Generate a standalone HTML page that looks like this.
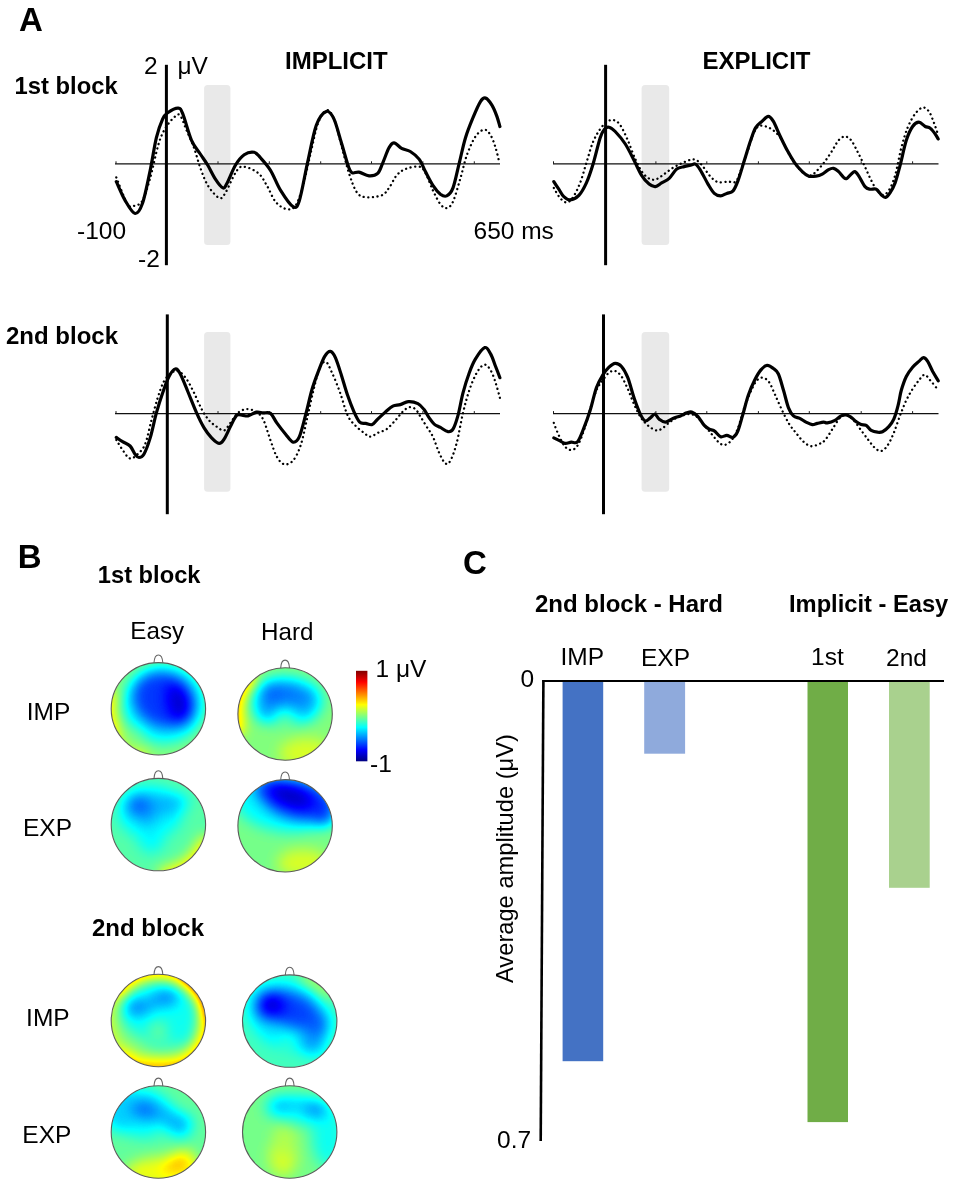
<!DOCTYPE html>
<html><head><meta charset="utf-8"><title>Figure</title>
<style>
html,body{margin:0;padding:0;background:#fff}
svg{display:block}
text{font-family:"Liberation Sans",sans-serif;fill:#000}
.b{font-weight:bold}
.sol{fill:none;stroke:#000;stroke-width:3.2;stroke-linejoin:round;stroke-linecap:round}
.dot{fill:none;stroke:#000;stroke-width:2.3;stroke-dasharray:0.1 4.5;stroke-linecap:round}
</style></head><body>
<svg width="957" height="1185" viewBox="0 0 957 1185">
<defs>
<filter id="jet" x="-20%" y="-20%" width="140%" height="140%" color-interpolation-filters="sRGB">
<feGaussianBlur stdDeviation="7"/>
<feComponentTransfer>
<feFuncR type="table" tableValues="0 0 0 0 0.5 1 1 1 0.5"/>
<feFuncG type="table" tableValues="0 0 0.5 1 1 1 0.5 0 0"/>
<feFuncB type="table" tableValues="0.5 1 1 1 0.5 0 0 0 0"/>
<feFuncA type="linear" slope="0" intercept="1"/>
</feComponentTransfer>
</filter>
<linearGradient id="cb" x1="0" y1="0" x2="0" y2="1">
<stop offset="0" stop-color="#800000"/><stop offset="0.125" stop-color="#ff0000"/><stop offset="0.25" stop-color="#ff8000"/><stop offset="0.375" stop-color="#ffff00"/><stop offset="0.5" stop-color="#80ff80"/><stop offset="0.625" stop-color="#00ffff"/><stop offset="0.75" stop-color="#0080ff"/><stop offset="0.875" stop-color="#0000ff"/><stop offset="1" stop-color="#000080"/>
</linearGradient>
</defs>
<rect width="957" height="1185" fill="#fff"/>
<!-- PANEL A -->
<rect x="204.1" y="85.1" width="26.3" height="160.0" rx="3.5" fill="#e9e9e9"/>
<line x1="115.0" y1="163.8" x2="500.0" y2="163.8" stroke="#111" stroke-width="1.2"/>
<line x1="116.0" y1="161.3" x2="116.0" y2="163.8" stroke="#1a1a1a" stroke-width="1"/>
<line x1="218.0" y1="161.3" x2="218.0" y2="163.8" stroke="#1a1a1a" stroke-width="1"/>
<line x1="269.3" y1="161.3" x2="269.3" y2="163.8" stroke="#1a1a1a" stroke-width="1"/>
<line x1="320.7" y1="161.3" x2="320.7" y2="163.8" stroke="#1a1a1a" stroke-width="1"/>
<line x1="371.5" y1="161.3" x2="371.5" y2="163.8" stroke="#1a1a1a" stroke-width="1"/>
<line x1="422.9" y1="161.3" x2="422.9" y2="163.8" stroke="#1a1a1a" stroke-width="1"/>
<line x1="474.3" y1="161.3" x2="474.3" y2="163.8" stroke="#1a1a1a" stroke-width="1"/>
<path d="M116.3,177.4C118.2,181.9 124.5,199.5 127.6,204.2C130.7,208.9 132.6,206.1 135.1,205.5C137.6,204.9 140.1,205.0 142.6,200.4C145.1,195.8 147.5,187.5 150.2,177.9C152.9,168.3 156.2,151.4 158.9,142.8C161.6,134.2 163.8,130.9 166.5,126.5C169.2,122.1 172.9,118.2 175.2,116.4C177.5,114.6 178.4,113.4 180.3,115.7C182.2,118.0 184.2,124.9 186.5,130.2C188.8,135.5 191.7,141.4 194.0,147.7C196.3,154.0 198.0,161.5 200.3,167.8C202.6,174.1 204.7,180.4 207.8,185.4C210.9,190.4 216.2,196.7 219.1,197.9C222.0,199.2 222.7,197.1 225.4,192.9C228.1,188.7 232.5,177.3 235.4,172.9C238.3,168.5 239.1,166.6 242.9,166.6C246.7,166.6 254.0,169.8 258.0,172.9C262.0,176.0 263.9,180.6 266.8,185.4C269.7,190.2 272.2,197.7 275.5,201.7C278.8,205.7 283.4,208.6 286.8,209.2C290.2,209.8 292.9,209.5 295.6,205.5C298.3,201.5 300.6,194.2 303.1,185.4C305.6,176.6 308.2,163.2 310.7,152.8C313.2,142.4 315.5,129.8 318.2,122.7C320.9,115.6 324.3,110.6 327.0,110.2C329.7,109.8 332.1,114.3 334.5,120.2C336.9,126.1 339.0,136.5 341.4,145.3C343.8,154.1 346.4,165.2 348.9,172.9C351.4,180.6 353.7,187.6 356.4,191.7C359.1,195.8 361.0,196.6 365.2,197.2C369.4,197.8 377.5,196.9 381.5,195.4C385.5,193.9 386.5,191.2 389.0,187.9C391.5,184.6 393.9,178.5 396.6,175.4C399.3,172.3 401.6,170.6 405.3,169.1C409.1,167.6 415.8,166.0 419.1,166.6C422.5,167.2 423.1,168.9 425.4,172.9C427.7,176.9 430.4,185.2 432.9,190.4C435.4,195.6 438.1,201.3 440.4,204.2C442.7,207.1 444.6,208.4 446.7,208.0C448.8,207.6 450.7,206.7 453.0,201.7C455.3,196.7 458.2,185.6 460.5,177.9C462.8,170.2 464.3,162.2 466.8,155.3C469.3,148.4 472.6,140.8 475.5,136.5C478.4,132.2 481.8,129.9 484.3,129.7C486.8,129.5 488.7,132.2 490.6,135.2C492.5,138.2 494.1,143.2 495.6,147.8C497.1,152.4 498.8,160.3 499.4,162.8" class="dot"/>
<path d="M116.3,181.6C117.8,184.7 122.0,195.1 125.1,200.4C128.2,205.7 132.2,213.1 135.1,213.5C138.0,213.9 140.1,210.2 142.6,203.0C145.1,195.8 147.9,181.2 150.2,170.3C152.5,159.4 154.3,146.3 156.4,137.7C158.5,129.1 160.8,123.1 162.7,118.9C164.6,114.7 165.1,114.5 167.7,112.7C170.3,110.9 175.7,108.0 178.2,108.2C180.7,108.4 180.6,108.6 182.8,113.9C185.0,119.2 188.6,133.6 191.5,140.3C194.4,147.0 197.6,149.8 200.3,154.0C203.0,158.2 205.3,161.1 207.8,165.3C210.3,169.5 212.9,175.3 215.4,179.1C217.9,182.9 221.0,187.1 222.9,187.9C224.8,188.7 224.5,187.9 226.6,184.1C228.7,180.3 232.5,170.2 235.4,165.3C238.3,160.4 241.1,157.0 244.2,154.8C247.3,152.6 251.5,151.8 254.2,152.3C256.9,152.8 257.8,154.8 260.5,157.8C263.2,160.8 267.1,164.9 270.5,170.3C273.9,175.7 276.8,184.3 280.6,190.4C284.4,196.5 290.0,205.0 293.1,206.7C296.2,208.4 297.0,207.7 299.4,200.4C301.8,193.1 304.7,175.3 307.5,162.8C310.3,150.3 313.2,133.8 316.3,125.2C319.4,116.6 323.4,112.5 326.3,111.4C329.2,110.4 331.4,113.7 333.9,118.9C336.4,124.1 338.9,134.7 341.4,142.8C343.9,151.0 347.0,162.8 348.9,167.8C350.8,172.8 351.0,172.2 352.7,172.9C354.4,173.6 356.2,171.6 358.9,172.1C361.6,172.6 365.9,175.7 369.0,175.9C372.1,176.1 375.4,175.6 377.7,173.4C380.0,171.2 380.9,167.1 382.8,162.8C384.7,158.5 387.1,151.1 389.0,147.8C390.9,144.5 391.9,142.7 394.0,142.8C396.1,142.9 398.9,146.9 401.6,148.3C404.3,149.8 407.4,149.7 410.3,151.5C413.2,153.3 416.6,155.8 419.1,159.1C421.6,162.4 423.1,167.2 425.4,171.6C427.7,176.0 430.4,181.6 432.9,185.4C435.4,189.2 438.1,192.4 440.4,194.2C442.7,195.9 444.6,196.9 446.7,195.9C448.8,194.9 450.9,193.4 453.0,187.9C455.1,182.4 457.2,171.2 459.3,162.8C461.4,154.4 463.2,145.2 465.5,137.7C467.8,130.2 470.5,123.8 473.0,117.7C475.5,111.7 478.5,104.7 480.6,101.4C482.7,98.1 483.7,97.5 485.6,98.1C487.5,98.7 490.0,102.0 491.9,105.1C493.8,108.1 495.6,112.8 496.9,116.4C498.2,120.0 499.4,124.8 499.9,126.5" class="sol"/>
<line x1="166.4" y1="64.8" x2="166.4" y2="265.2" stroke="#000" stroke-width="3"/>
<rect x="641.6" y="85.1" width="27.6" height="160.0" rx="3.5" fill="#e9e9e9"/>
<line x1="553.0" y1="163.8" x2="938.5" y2="163.8" stroke="#111" stroke-width="1.2"/>
<line x1="553.5" y1="161.3" x2="553.5" y2="163.8" stroke="#1a1a1a" stroke-width="1"/>
<line x1="655.9" y1="161.3" x2="655.9" y2="163.8" stroke="#1a1a1a" stroke-width="1"/>
<line x1="706.8" y1="161.3" x2="706.8" y2="163.8" stroke="#1a1a1a" stroke-width="1"/>
<line x1="758.4" y1="161.3" x2="758.4" y2="163.8" stroke="#1a1a1a" stroke-width="1"/>
<line x1="809.3" y1="161.3" x2="809.3" y2="163.8" stroke="#1a1a1a" stroke-width="1"/>
<line x1="861.2" y1="161.3" x2="861.2" y2="163.8" stroke="#1a1a1a" stroke-width="1"/>
<line x1="912.6" y1="161.3" x2="912.6" y2="163.8" stroke="#1a1a1a" stroke-width="1"/>
<path d="M553.8,187.9C554.8,189.6 557.9,195.5 560.0,197.9C562.1,200.3 564.2,202.4 566.3,202.4C568.4,202.4 570.3,201.2 572.6,197.9C574.9,194.7 577.8,188.8 580.1,182.9C582.4,177.1 584.3,169.5 586.4,162.8C588.5,156.1 590.4,148.4 592.7,142.8C595.0,137.2 597.7,132.6 600.2,129.0C602.7,125.4 605.4,122.9 607.7,121.4C610.0,119.9 611.9,119.6 614.0,120.2C616.1,120.8 618.0,121.8 620.3,125.2C622.6,128.6 625.3,134.7 627.8,140.3C630.3,146.0 632.8,153.7 635.3,159.1C637.8,164.5 640.3,169.6 642.8,172.9C645.3,176.2 648.0,178.1 650.3,179.1C652.6,180.1 654.3,179.9 656.6,179.1C658.9,178.3 661.4,176.0 664.1,174.1C666.8,172.2 670.0,169.6 672.9,167.8C675.8,166.0 678.8,164.6 681.7,163.3C684.6,162.0 688.0,160.3 690.5,159.8C693.0,159.3 694.6,159.2 696.7,160.3C698.8,161.4 700.7,163.9 703.0,166.6C705.3,169.3 708.0,174.0 710.5,176.6C713.0,179.2 715.2,181.3 718.1,182.1C721.0,182.9 725.2,181.7 728.1,181.6C731.0,181.5 733.7,183.5 735.8,181.6C737.9,179.7 738.9,175.1 740.8,170.3C742.7,165.5 745.0,158.9 747.1,152.8C749.2,146.8 751.5,138.4 753.4,134.0C755.3,129.6 756.3,127.8 758.4,126.5C760.5,125.2 763.2,125.7 765.9,126.5C768.6,127.3 772.0,129.2 774.7,131.5C777.4,133.8 779.7,136.3 782.2,140.3C784.7,144.3 787.2,150.9 789.7,155.3C792.2,159.7 794.8,163.5 797.3,166.6C799.8,169.7 802.5,172.6 804.8,174.1C807.1,175.6 808.9,176.0 811.0,175.4C813.1,174.8 815.0,172.6 817.3,170.3C819.6,168.0 822.3,164.9 824.8,161.6C827.3,158.3 830.1,153.9 832.4,150.3C834.7,146.8 836.5,142.6 838.6,140.3C840.7,138.0 842.8,136.5 844.9,136.5C847.0,136.5 849.1,137.8 851.2,140.3C853.3,142.8 855.3,147.5 857.4,151.5C859.5,155.5 861.6,159.7 863.7,164.1C865.8,168.5 867.9,173.7 870.0,177.9C872.1,182.1 874.1,186.4 876.2,189.2C878.3,192.0 880.4,194.7 882.5,194.9C884.6,195.1 886.7,193.7 888.8,190.4C890.9,187.2 893.0,182.5 895.1,175.4C897.2,168.3 899.2,155.8 901.3,147.8C903.4,139.9 905.3,133.3 907.6,127.7C909.9,122.0 912.6,117.2 915.1,113.9C917.6,110.6 920.3,108.0 922.6,107.6C924.9,107.2 927.0,108.9 928.9,111.4C930.8,113.9 932.3,118.7 933.9,122.7C935.5,126.7 937.5,133.1 938.2,135.2" class="dot"/>
<path d="M553.8,181.6C554.6,182.9 557.1,186.7 558.8,189.2C560.5,191.7 561.9,194.9 563.8,196.7C565.7,198.5 567.6,200.1 570.1,199.9C572.6,199.7 576.2,198.2 578.9,195.4C581.6,192.6 584.1,187.9 586.4,182.9C588.7,177.9 590.4,172.8 592.7,165.3C595.0,157.8 598.2,143.8 600.2,137.7C602.2,131.6 603.2,130.8 604.7,129.0C606.2,127.2 607.2,126.8 609.0,127.2C610.8,127.6 612.5,128.7 615.2,131.5C617.9,134.3 622.2,139.2 625.3,144.0C628.4,148.8 631.3,155.1 634.0,160.3C636.7,165.5 639.1,171.4 641.6,175.4C644.1,179.4 646.8,182.2 649.1,184.1C651.4,186.0 653.3,186.8 655.4,186.6C657.5,186.4 659.3,184.3 661.6,182.9C663.9,181.5 666.7,180.7 669.2,178.4C671.7,176.1 674.2,171.1 676.7,169.1C679.2,167.1 681.9,167.2 684.2,166.6C686.5,166.0 688.6,165.7 690.5,165.3C692.4,164.9 693.8,163.3 695.5,164.1C697.2,164.9 698.4,167.0 700.5,170.3C702.6,173.6 705.7,180.2 708.0,184.1C710.3,187.9 712.2,191.4 714.3,193.4C716.4,195.4 718.5,195.9 720.6,195.9C722.7,195.9 724.7,194.2 726.8,193.4C728.9,192.6 731.2,193.1 733.1,190.9C735.0,188.7 736.2,185.5 738.1,180.4C740.0,175.3 742.3,167.0 744.4,160.3C746.5,153.6 748.8,145.7 750.7,140.3C752.6,134.9 753.8,130.8 755.7,127.7C757.6,124.5 759.9,123.3 762.0,121.4C764.1,119.5 766.3,116.4 768.2,116.4C770.1,116.4 771.5,118.3 773.4,121.4C775.3,124.5 777.4,130.4 779.7,135.2C782.0,140.0 784.7,145.7 787.2,150.3C789.7,154.9 792.2,159.2 794.7,162.8C797.2,166.4 800.0,169.4 802.3,171.6C804.6,173.8 806.2,175.3 808.5,176.1C810.8,176.8 813.8,176.4 816.1,176.1C818.4,175.8 820.2,175.2 822.3,174.1C824.4,173.0 826.7,170.6 828.6,169.6C830.5,168.6 831.9,168.0 833.6,168.3C835.3,168.6 836.9,170.1 838.6,171.6C840.3,173.1 842.2,176.2 843.6,177.4C845.0,178.6 845.4,179.2 846.7,178.6C848.0,178.0 849.8,175.3 851.2,174.1C852.6,172.9 853.6,171.3 854.9,171.6C856.1,171.9 857.0,173.4 858.7,175.9C860.4,178.4 863.1,184.4 865.0,186.6C866.9,188.8 868.1,188.8 870.0,189.2C871.9,189.6 874.3,188.2 876.2,189.2C878.1,190.1 879.8,193.5 881.3,194.9C882.8,196.3 884.0,197.7 885.5,197.4C887.0,197.1 888.4,195.3 890.0,192.9C891.6,190.5 893.4,187.5 895.1,182.9C896.8,178.3 898.2,172.4 900.1,165.3C902.0,158.2 904.2,146.8 906.3,140.3C908.4,133.8 910.5,129.5 912.6,126.5C914.7,123.5 916.8,122.2 918.9,122.2C921.0,122.2 923.3,125.5 925.2,126.5C927.1,127.5 928.5,126.9 930.2,128.2C931.9,129.4 933.9,132.2 935.2,134.0C936.5,135.8 937.7,138.2 938.2,139.0" class="sol"/>
<line x1="605.6" y1="64.8" x2="605.6" y2="265.2" stroke="#000" stroke-width="3"/>
<rect x="204.1" y="332.1" width="26.3" height="159.7" rx="3.5" fill="#e9e9e9"/>
<line x1="115.0" y1="413.6" x2="500.0" y2="413.6" stroke="#111" stroke-width="1.2"/>
<line x1="116.0" y1="411.1" x2="116.0" y2="413.6" stroke="#1a1a1a" stroke-width="1"/>
<line x1="218.0" y1="411.1" x2="218.0" y2="413.6" stroke="#1a1a1a" stroke-width="1"/>
<line x1="269.3" y1="411.1" x2="269.3" y2="413.6" stroke="#1a1a1a" stroke-width="1"/>
<line x1="320.7" y1="411.1" x2="320.7" y2="413.6" stroke="#1a1a1a" stroke-width="1"/>
<line x1="371.5" y1="411.1" x2="371.5" y2="413.6" stroke="#1a1a1a" stroke-width="1"/>
<line x1="422.9" y1="411.1" x2="422.9" y2="413.6" stroke="#1a1a1a" stroke-width="1"/>
<line x1="474.3" y1="411.1" x2="474.3" y2="413.6" stroke="#1a1a1a" stroke-width="1"/>
<path d="M116.3,439.9C117.5,441.9 121.5,448.6 123.8,451.7C126.1,454.8 127.8,458.1 130.1,458.5C132.4,458.9 135.1,456.6 137.6,454.2C140.1,451.8 142.8,449.8 145.1,444.2C147.4,438.6 149.3,428.1 151.4,420.4C153.5,412.7 155.6,404.3 157.7,397.8C159.8,391.3 161.6,385.7 163.9,381.5C166.2,377.3 169.0,374.4 171.5,372.7C174.0,371.0 176.5,370.4 179.0,371.5C181.5,372.6 184.0,375.4 186.5,379.0C189.0,382.6 191.5,387.8 194.0,392.8C196.5,397.8 199.1,404.5 201.6,409.1C204.1,413.7 206.6,417.5 209.1,420.4C211.6,423.3 214.1,424.9 216.6,426.6C219.1,428.3 221.8,431.0 224.1,430.4C226.4,429.8 228.1,425.8 230.4,422.9C232.7,420.0 235.2,415.2 237.9,412.9C240.6,410.6 243.8,409.3 246.7,409.1C249.6,408.9 252.8,409.9 255.5,411.6C258.2,413.3 260.5,414.3 263.0,419.1C265.5,423.9 268.2,434.1 270.5,440.4C272.8,446.7 274.5,452.7 276.8,456.7C279.1,460.7 281.6,463.7 284.3,464.3C287.0,464.9 290.4,463.6 293.1,460.5C295.8,457.4 298.2,452.6 300.6,445.5C303.0,438.4 305.1,427.2 307.2,418.0C309.3,408.8 311.4,398.4 313.5,390.0C315.6,381.6 317.7,372.2 319.8,367.5C321.9,362.8 323.9,361.0 326.0,362.0C328.1,363.0 329.9,368.4 332.3,373.5C334.7,378.6 337.6,385.8 340.1,392.8C342.7,399.8 345.1,410.0 347.6,415.4C350.1,420.8 352.5,422.5 355.2,425.4C357.9,428.3 361.5,431.0 364.0,432.9C366.5,434.8 367.9,436.7 370.2,436.7C372.5,436.7 375.0,434.1 377.7,432.9C380.4,431.6 383.6,431.3 386.5,429.2C389.4,427.1 392.6,423.3 395.3,420.4C398.0,417.5 400.5,413.8 402.8,411.6C405.1,409.4 407.0,407.7 409.1,407.3C411.2,406.9 413.5,407.6 415.4,409.1C417.3,410.7 418.5,413.7 420.4,416.6C422.3,419.5 424.5,423.2 426.6,426.6C428.7,430.0 430.8,432.3 432.9,436.7C435.0,441.1 437.1,448.5 439.2,453.0C441.3,457.5 443.6,462.2 445.5,463.5C447.4,464.8 448.6,463.9 450.5,460.5C452.4,457.1 454.6,450.8 456.7,442.9C458.8,435.0 460.9,421.7 463.0,412.9C465.1,404.1 467.0,397.0 469.3,390.3C471.6,383.6 474.3,377.0 476.8,372.7C479.3,368.4 482.0,365.1 484.3,364.7C486.6,364.3 488.7,367.2 490.6,370.2C492.5,373.2 494.1,378.2 495.6,382.8C497.2,387.4 499.2,395.3 499.9,397.8" class="dot"/>
<path d="M116.3,437.4C117.3,438.1 120.3,440.3 122.6,441.7C124.9,443.1 128.0,443.9 130.1,446.0C132.2,448.1 133.6,452.3 135.1,454.2C136.6,456.1 137.4,457.5 138.9,457.5C140.4,457.5 142.0,457.5 143.9,454.2C145.8,450.9 148.1,444.8 150.2,437.9C152.3,431.0 154.3,420.4 156.4,412.9C158.5,405.4 160.6,398.9 162.7,392.8C164.8,386.7 166.9,380.5 169.0,376.5C171.1,372.5 173.3,369.4 175.2,369.0C177.1,368.6 178.2,370.2 180.3,374.0C182.4,377.8 185.1,385.0 187.8,391.5C190.5,398.0 193.9,406.8 196.6,412.9C199.3,419.0 201.6,423.7 204.1,427.9C206.6,432.1 209.1,435.3 211.6,437.9C214.1,440.5 217.0,443.2 219.1,443.4C221.2,443.6 222.2,442.0 224.1,439.2C226.0,436.4 228.3,430.6 230.4,426.6C232.5,422.6 234.6,417.3 236.7,415.4C238.8,413.5 241.0,415.3 242.9,415.4C244.8,415.5 245.7,416.4 248.0,415.9C250.3,415.3 254.2,412.6 256.7,412.1C259.2,411.6 260.7,412.7 263.0,412.9C265.3,413.1 268.2,411.7 270.5,413.4C272.8,415.1 274.3,419.4 276.8,422.9C279.3,426.4 282.9,431.0 285.6,434.2C288.3,437.4 290.8,441.8 293.1,442.2C295.4,442.6 297.2,441.5 299.4,436.7C301.5,431.9 303.9,421.5 306.0,413.5C308.1,405.5 310.1,395.9 312.2,388.8C314.3,381.7 316.4,376.4 318.5,371.0C320.6,365.6 322.7,359.7 324.7,356.4C326.7,353.1 328.6,351.2 330.4,351.4C332.2,351.6 333.6,353.7 335.4,357.7C337.2,361.7 339.4,368.9 341.4,375.2C343.4,381.5 345.5,389.2 347.6,395.3C349.7,401.4 351.9,407.1 353.9,411.6C355.9,416.1 357.7,420.1 359.7,422.1C361.7,424.1 363.6,423.0 365.7,423.4C367.8,423.8 370.2,425.3 372.2,424.6C374.2,423.9 375.5,421.2 377.7,419.1C379.9,417.0 382.8,414.3 385.3,412.1C387.8,409.9 390.3,407.4 392.8,406.1C395.3,404.9 397.7,405.4 400.3,404.6C402.9,403.9 405.4,401.8 408.3,401.6C411.2,401.4 415.3,402.3 417.9,403.6C420.5,404.9 422.2,407.2 424.1,409.6C426.0,412.0 427.5,415.5 429.2,417.9C430.9,420.3 432.3,422.5 434.2,424.1C436.1,425.7 438.1,426.1 440.4,427.4C442.7,428.7 445.9,431.4 448.0,431.7C450.1,432.0 451.3,431.9 453.0,429.2C454.7,426.5 456.3,421.5 458.0,415.4C459.7,409.3 461.1,399.9 463.0,392.8C464.9,385.7 467.2,378.4 469.3,372.7C471.4,367.0 472.9,363.1 475.5,358.9C478.1,354.7 482.3,348.4 484.8,347.6C487.3,346.8 488.8,350.8 490.6,353.9C492.4,357.0 494.1,362.5 495.6,366.5C497.2,370.5 499.2,375.8 499.9,377.7" class="sol"/>
<line x1="167.3" y1="314.4" x2="167.3" y2="514.2" stroke="#000" stroke-width="3"/>
<rect x="641.6" y="332.1" width="27.6" height="159.7" rx="3.5" fill="#e9e9e9"/>
<line x1="553.0" y1="413.6" x2="938.5" y2="413.6" stroke="#111" stroke-width="1.2"/>
<line x1="553.5" y1="411.1" x2="553.5" y2="413.6" stroke="#1a1a1a" stroke-width="1"/>
<line x1="655.9" y1="411.1" x2="655.9" y2="413.6" stroke="#1a1a1a" stroke-width="1"/>
<line x1="706.8" y1="411.1" x2="706.8" y2="413.6" stroke="#1a1a1a" stroke-width="1"/>
<line x1="758.4" y1="411.1" x2="758.4" y2="413.6" stroke="#1a1a1a" stroke-width="1"/>
<line x1="809.3" y1="411.1" x2="809.3" y2="413.6" stroke="#1a1a1a" stroke-width="1"/>
<line x1="861.2" y1="411.1" x2="861.2" y2="413.6" stroke="#1a1a1a" stroke-width="1"/>
<line x1="912.6" y1="411.1" x2="912.6" y2="413.6" stroke="#1a1a1a" stroke-width="1"/>
<path d="M553.8,422.9C554.6,425.0 556.9,431.4 558.8,435.4C560.7,439.4 563.0,444.3 565.1,446.7C567.2,449.1 569.2,450.2 571.3,450.0C573.4,449.8 575.5,448.8 577.6,445.5C579.7,442.2 581.8,436.5 583.9,430.4C586.0,424.3 588.1,415.8 590.2,409.1C592.3,402.4 594.3,395.1 596.4,390.3C598.5,385.5 600.6,383.2 602.7,380.3C604.8,377.4 606.9,374.2 609.0,372.7C611.1,371.1 613.1,370.4 615.2,371.0C617.3,371.6 619.4,373.5 621.5,376.5C623.6,379.5 625.7,384.4 627.8,389.0C629.9,393.6 631.9,399.5 634.0,404.1C636.1,408.7 638.0,413.1 640.3,416.6C642.6,420.2 645.1,423.1 647.8,425.4C650.5,427.7 654.1,430.0 656.6,430.4C659.1,430.8 660.6,429.4 662.9,427.9C665.2,426.4 667.7,423.5 670.4,421.6C673.1,419.7 676.1,417.9 679.2,416.6C682.3,415.4 686.3,414.1 689.2,414.1C692.1,414.1 694.2,414.7 696.7,416.6C699.2,418.5 701.8,422.5 704.3,425.4C706.8,428.3 709.5,431.5 711.8,434.2C714.1,436.9 716.0,439.9 718.1,441.7C720.2,443.5 722.1,445.2 724.3,445.0C726.5,444.8 729.2,443.0 731.4,440.4C733.6,437.8 735.5,434.4 737.6,429.2C739.7,424.0 741.8,415.1 743.9,409.0C746.0,402.9 748.1,397.5 750.2,392.8C752.3,388.1 754.3,383.5 756.4,381.0C758.5,378.5 760.6,377.5 762.7,377.7C764.8,377.9 767.0,379.3 769.0,382.0C771.0,384.7 772.7,389.7 774.7,394.0C776.7,398.3 778.6,403.0 780.9,407.8C783.2,412.6 786.0,418.7 788.5,422.9C791.0,427.1 793.5,429.8 796.0,432.9C798.5,436.0 801.0,439.5 803.5,441.7C806.0,443.9 808.5,445.8 811.0,446.2C813.5,446.6 816.3,445.2 818.6,444.2C820.9,443.2 822.5,442.9 824.8,440.4C827.1,437.9 829.9,432.9 832.4,429.2C834.9,425.4 837.6,420.3 839.9,417.9C842.2,415.5 843.9,414.5 846.2,414.9C848.5,415.3 851.2,417.8 853.7,420.4C856.2,423.0 858.7,427.1 861.2,430.4C863.7,433.7 866.4,437.5 868.7,440.4C871.0,443.3 872.9,446.2 875.0,448.0C877.1,449.8 879.2,451.4 881.3,451.0C883.4,450.6 885.4,448.5 887.5,445.5C889.6,442.5 891.7,437.9 893.8,432.9C895.9,427.9 898.0,420.8 900.1,415.4C902.2,410.0 904.2,404.7 906.3,400.3C908.4,395.9 910.5,392.3 912.6,389.0C914.7,385.7 916.9,382.7 918.9,380.3C920.9,377.9 922.7,374.7 924.6,374.7C926.5,374.7 928.2,378.1 930.2,380.3C932.2,382.5 935.4,386.6 936.4,387.8" class="dot"/>
<path d="M553.8,437.9C554.8,438.4 558.1,440.0 560.0,440.9C561.9,441.8 563.2,443.2 565.1,443.4C567.0,443.6 569.2,442.5 571.3,442.2C573.4,441.9 575.5,444.1 577.6,441.7C579.7,439.3 581.8,433.1 583.9,427.9C586.0,422.7 588.1,417.0 590.2,410.3C592.3,403.6 594.3,393.7 596.4,387.8C598.5,381.9 600.6,378.6 602.7,375.2C604.8,371.8 606.9,369.2 609.0,367.2C611.1,365.2 613.1,363.5 615.2,363.4C617.3,363.3 619.4,364.1 621.5,366.5C623.6,368.9 625.7,372.5 627.8,377.7C629.9,382.9 631.9,391.7 634.0,397.8C636.1,403.9 638.4,410.2 640.3,414.1C642.2,418.0 643.6,420.3 645.3,420.9C647.0,421.5 648.7,419.0 650.3,417.9C651.9,416.8 653.4,413.9 654.9,414.1C656.4,414.3 657.4,417.8 659.1,419.1C660.9,420.4 663.1,422.2 665.4,422.1C667.7,422.0 670.4,419.4 672.9,418.4C675.4,417.4 678.1,416.8 680.4,415.9C682.7,415.0 684.8,413.5 686.7,412.9C688.6,412.3 689.8,411.5 691.7,412.1C693.6,412.7 695.9,414.4 698.0,416.6C700.1,418.8 702.4,423.3 704.3,425.4C706.2,427.5 707.6,428.3 709.3,429.2C711.0,430.1 712.4,429.6 714.3,430.9C716.2,432.1 718.5,435.9 720.6,436.7C722.7,437.4 724.8,435.3 726.8,435.4C728.8,435.5 731.0,438.0 732.8,437.4C734.6,436.8 736.0,435.4 737.6,431.7C739.2,428.0 740.8,421.5 742.6,415.4C744.4,409.3 746.3,401.1 748.3,395.3C750.3,389.5 752.5,384.5 754.6,380.3C756.7,376.1 758.8,372.4 760.9,369.9C763.0,367.4 765.0,365.6 767.1,365.4C769.2,365.2 771.5,367.1 773.4,368.5C775.3,369.9 776.7,370.4 778.4,374.0C780.1,377.6 781.8,384.7 783.5,390.3C785.2,395.9 786.8,403.5 788.5,407.8C790.2,412.1 791.6,414.1 793.5,415.9C795.4,417.7 797.7,417.4 799.8,418.4C801.9,419.4 803.9,421.1 806.0,422.1C808.1,423.1 810.4,424.4 812.3,424.6C814.2,424.8 815.4,423.8 817.3,423.4C819.2,423.0 821.9,422.2 823.6,422.1C825.3,422.0 825.4,423.2 827.3,422.9C829.2,422.6 832.6,421.6 834.9,420.4C837.2,419.2 839.2,416.8 841.1,415.9C843.0,415.0 844.5,414.6 846.2,414.9C847.9,415.1 849.5,416.3 851.2,417.4C852.9,418.5 854.5,420.4 856.2,421.6C857.9,422.8 859.5,424.0 861.2,424.6C862.9,425.2 864.5,424.4 866.2,425.4C867.9,426.4 869.3,429.3 871.2,430.4C873.1,431.5 875.6,432.0 877.5,432.2C879.4,432.4 880.6,432.6 882.5,431.7C884.4,430.8 886.9,428.7 888.8,426.6C890.7,424.5 892.2,422.7 893.8,419.1C895.3,415.6 896.9,410.1 898.1,405.3C899.4,400.5 899.9,395.1 901.3,390.3C902.7,385.5 904.4,380.4 906.3,376.5C908.2,372.6 910.5,369.7 912.6,367.2C914.7,364.7 917.1,363.0 918.9,361.4C920.7,359.8 921.9,357.7 923.4,357.7C924.9,357.7 926.2,359.1 927.7,361.4C929.2,363.7 931.0,368.3 932.7,371.5C934.5,374.7 937.3,379.2 938.2,380.8" class="sol"/>
<line x1="603.5" y1="314.4" x2="603.5" y2="514.2" stroke="#000" stroke-width="3"/>

<text class="b" x="19" y="30.8" font-size="33">A</text>
<text class="b" x="14.5" y="93.5" font-size="23.8">1st block</text>
<text class="b" x="6" y="344.2" font-size="24">2nd block</text>
<text class="b" x="285" y="69.3" font-size="24">IMPLICIT</text>
<text class="b" x="702.5" y="68.9" font-size="24">EXPLICIT</text>
<text x="144" y="74" font-size="24.5">2</text>
<text x="177.5" y="74" font-size="24.5">μV</text>
<text x="77" y="238.6" font-size="24.5">-100</text>
<text x="473.5" y="238.6" font-size="24.5">650 ms</text>
<text x="138" y="266.5" font-size="24.5">-2</text>
<!-- PANEL B -->
<text class="b" x="17.8" y="567.9" font-size="33">B</text>
<text class="b" x="97.8" y="583.3" font-size="23.7">1st block</text>
<text class="b" x="92" y="935.5" font-size="24">2nd block</text>
<text x="130.3" y="638.5" font-size="24.2">Easy</text>
<text x="261" y="640" font-size="24.2">Hard</text>
<text x="26.8" y="719.8" font-size="24.5">IMP</text>
<text x="23" y="836" font-size="24.5">EXP</text>
<text x="26.1" y="1026.1" font-size="24.5">IMP</text>
<text x="22.3" y="1143.2" font-size="24.5">EXP</text>
<clipPath id="hc0"><ellipse cx="158.4" cy="708.8" rx="47.2" ry="46.2"/></clipPath>
<path d="M154.0,662.8 c0.6,-10.5 8.2,-10.5 8.8,0" fill="#fff" stroke="#666" stroke-width="1.1"/>
<g clip-path="url(#hc0)"><g filter="url(#jet)">
<rect x="58.4" y="608.8" width="200" height="200" fill="rgb(128,128,128)"/>
<path d="M144.9,759.0 A52.0,52.0 0 0 1 109.5,691.0" fill="none" stroke="rgb(173,173,173)" stroke-width="15"/>
<ellipse cx="164" cy="704" rx="42" ry="40" fill="rgb(92,92,92)"/>
<ellipse cx="164" cy="700" rx="32" ry="27" fill="rgb(46,46,46)" transform="rotate(25 164 700)"/>
<ellipse cx="178" cy="703" rx="12" ry="22" fill="rgb(26,26,26)" transform="rotate(-15 178 703)"/>
<ellipse cx="180" cy="703" rx="5" ry="12" fill="rgb(15,15,15)" transform="rotate(-15 180 703)"/>
<ellipse cx="132" cy="740" rx="16" ry="12" fill="rgb(128,128,128)" transform="rotate(40 132 740)"/>
</g></g>
<ellipse cx="158.4" cy="708.8" rx="47.2" ry="46.2" fill="none" stroke="#5c5c5c" stroke-width="1.1"/>
<clipPath id="hc1"><ellipse cx="285.1" cy="714.0" rx="47.2" ry="46.2"/></clipPath>
<path d="M280.7,668.0 c0.6,-10.5 8.2,-10.5 8.8,0" fill="#fff" stroke="#666" stroke-width="1.1"/>
<g clip-path="url(#hc1)"><g filter="url(#jet)">
<rect x="185.1" y="614.0" width="200" height="200" fill="rgb(128,128,128)"/>
<path d="M236.9,733.5 A52.0,52.0 0 0 1 251.7,674.2" fill="none" stroke="rgb(189,189,189)" stroke-width="15"/>
<ellipse cx="306" cy="753" rx="27" ry="15" fill="rgb(150,150,150)"/>
<ellipse cx="287" cy="701" rx="37" ry="25" fill="rgb(94,94,94)"/>
<ellipse cx="276" cy="694" rx="16" ry="13" fill="rgb(56,56,56)"/>
<ellipse cx="301" cy="699" rx="15" ry="12" fill="rgb(64,64,64)"/>
<ellipse cx="287" cy="690" rx="14" ry="8" fill="rgb(61,61,61)"/>
<ellipse cx="265" cy="712" rx="8" ry="10" fill="rgb(69,69,69)"/>
<ellipse cx="306" cy="711" rx="8" ry="8" fill="rgb(76,76,76)"/>
<ellipse cx="285" cy="721" rx="9" ry="9" fill="rgb(120,120,120)"/>
</g></g>
<ellipse cx="285.1" cy="714.0" rx="47.2" ry="46.2" fill="none" stroke="#5c5c5c" stroke-width="1.1"/>
<clipPath id="hc2"><ellipse cx="158.4" cy="824.6" rx="47.2" ry="46.2"/></clipPath>
<path d="M154.0,778.6 c0.6,-10.5 8.2,-10.5 8.8,0" fill="#fff" stroke="#666" stroke-width="1.1"/>
<g clip-path="url(#hc2)"><g filter="url(#jet)">
<rect x="58.4" y="724.6" width="200" height="200" fill="rgb(117,117,117)"/>
<path d="M208.6,838.1 A52.0,52.0 0 0 1 160.2,876.6" fill="none" stroke="rgb(168,168,168)" stroke-width="17"/>
<ellipse cx="150" cy="812" rx="33" ry="27" fill="rgb(94,94,94)"/>
<ellipse cx="174" cy="802" rx="15" ry="9" fill="rgb(84,84,84)"/>
<ellipse cx="151" cy="838" rx="13" ry="15" fill="rgb(94,94,94)"/>
<ellipse cx="155" cy="806" rx="24" ry="11" fill="rgb(76,76,76)" transform="rotate(-5 155 806)"/>
<ellipse cx="139" cy="806" rx="12" ry="11" fill="rgb(54,54,54)"/>
<ellipse cx="147" cy="818" rx="8" ry="8" fill="rgb(71,71,71)"/>
</g></g>
<ellipse cx="158.4" cy="824.6" rx="47.2" ry="46.2" fill="none" stroke="#5c5c5c" stroke-width="1.1"/>
<clipPath id="hc3"><ellipse cx="285.1" cy="825.8" rx="47.2" ry="46.2"/></clipPath>
<path d="M280.7,779.8 c0.6,-10.5 8.2,-10.5 8.8,0" fill="#fff" stroke="#666" stroke-width="1.1"/>
<g clip-path="url(#hc3)"><g filter="url(#jet)">
<rect x="185.1" y="725.8" width="200" height="200" fill="rgb(125,125,125)"/>
<ellipse cx="303" cy="863" rx="26" ry="14" fill="rgb(150,150,150)"/>
<ellipse cx="287" cy="802" rx="52" ry="30" fill="rgb(94,94,94)" transform="rotate(4 287 802)"/>
<ellipse cx="297" cy="800" rx="38" ry="19" fill="rgb(41,41,41)" transform="rotate(14 297 800)"/>
<ellipse cx="268" cy="787" rx="14" ry="8" fill="rgb(41,41,41)" transform="rotate(-25 268 787)"/>
<ellipse cx="291" cy="796" rx="22" ry="9" fill="rgb(15,15,15)" transform="rotate(20 291 796)"/>
<ellipse cx="324" cy="816" rx="10" ry="10" fill="rgb(43,43,43)"/>
</g></g>
<ellipse cx="285.1" cy="825.8" rx="47.2" ry="46.2" fill="none" stroke="#5c5c5c" stroke-width="1.1"/>
<clipPath id="hc4"><ellipse cx="158.4" cy="1020.5" rx="47.2" ry="46.2"/></clipPath>
<path d="M154.0,974.5 c0.6,-10.5 8.2,-10.5 8.8,0" fill="#fff" stroke="#666" stroke-width="1.1"/>
<g clip-path="url(#hc4)"><g filter="url(#jet)">
<rect x="58.4" y="920.5" width="200" height="200" fill="rgb(128,128,128)"/>
<ellipse cx="158" cy="1070" rx="46" ry="12" fill="rgb(168,168,168)"/>
<path d="M113.4,994.5 A52.0,52.0 0 0 1 191.8,980.7" fill="none" stroke="rgb(194,194,194)" stroke-width="15"/>
<path d="M191.8,980.7 A52.0,52.0 0 0 1 171.9,1070.7" fill="none" stroke="rgb(189,189,189)" stroke-width="15"/>
<path d="M182.8,974.6 A52.0,52.0 0 0 1 210.4,1020.5" fill="none" stroke="rgb(224,224,224)" stroke-width="14"/>
<path d="M171.9,1070.7 A52.0,52.0 0 0 1 118.6,1053.9" fill="none" stroke="rgb(184,184,184)" stroke-width="16"/>
<path d="M118.6,1053.9 A52.0,52.0 0 0 1 113.4,994.5" fill="none" stroke="rgb(153,153,153)" stroke-width="14"/>
<ellipse cx="160" cy="1012" rx="40" ry="30" fill="rgb(99,99,99)"/>
<ellipse cx="183" cy="1028" rx="12" ry="18" fill="rgb(99,99,99)"/>
<ellipse cx="162" cy="1045" rx="16" ry="8" fill="rgb(110,110,110)"/>
<ellipse cx="138" cy="1007.5" rx="12" ry="8" fill="rgb(59,59,59)"/>
<ellipse cx="165" cy="998" rx="13" ry="8" fill="rgb(61,61,61)"/>
<ellipse cx="151" cy="1003" rx="14" ry="6" fill="rgb(69,69,69)" transform="rotate(-15 151 1003)"/>
<ellipse cx="158" cy="1030" rx="9" ry="8" fill="rgb(125,125,125)"/>
</g></g>
<ellipse cx="158.4" cy="1020.5" rx="47.2" ry="46.2" fill="none" stroke="#5c5c5c" stroke-width="1.1"/>
<clipPath id="hc5"><ellipse cx="289.7" cy="1021.1" rx="47.2" ry="46.2"/></clipPath>
<path d="M285.3,975.1 c0.6,-10.5 8.2,-10.5 8.8,0" fill="#fff" stroke="#666" stroke-width="1.1"/>
<g clip-path="url(#hc5)"><g filter="url(#jet)">
<rect x="189.7" y="921.1" width="200" height="200" fill="rgb(112,112,112)"/>
<path d="M301.6,976.7 A46.0,46.0 0 0 1 329.5,998.1" fill="none" stroke="rgb(153,153,153)" stroke-width="8"/>
<ellipse cx="289" cy="1016" rx="44" ry="33" fill="rgb(89,89,89)" transform="rotate(25 289 1016)"/>
<ellipse cx="313" cy="1041" rx="12" ry="14" fill="rgb(71,71,71)"/>
<ellipse cx="292" cy="1010" rx="30" ry="17" fill="rgb(48,48,48)" transform="rotate(22 292 1010)"/>
<ellipse cx="272" cy="1006" rx="16" ry="15" fill="rgb(36,36,36)"/>
<ellipse cx="271" cy="1004" rx="9" ry="8" fill="rgb(15,15,15)"/>
<ellipse cx="318" cy="1024" rx="10" ry="12" fill="rgb(54,54,54)"/>
<ellipse cx="288" cy="1041" rx="10" ry="8" fill="rgb(105,105,105)"/>
</g></g>
<ellipse cx="289.7" cy="1021.1" rx="47.2" ry="46.2" fill="none" stroke="#5c5c5c" stroke-width="1.1"/>
<clipPath id="hc6"><ellipse cx="158.4" cy="1132.0" rx="47.2" ry="46.2"/></clipPath>
<path d="M154.0,1086.0 c0.6,-10.5 8.2,-10.5 8.8,0" fill="#fff" stroke="#666" stroke-width="1.1"/>
<g clip-path="url(#hc6)"><g filter="url(#jet)">
<rect x="58.4" y="1032.0" width="200" height="200" fill="rgb(120,120,120)"/>
<ellipse cx="165" cy="1172" rx="40" ry="15" fill="rgb(156,156,156)"/>
<ellipse cx="178" cy="1163" rx="18" ry="10" fill="rgb(168,168,168)" transform="rotate(-25 178 1163)"/>
<ellipse cx="178" cy="1163" rx="9" ry="5" fill="rgb(184,184,184)" transform="rotate(-25 178 1163)"/>
<ellipse cx="140" cy="1112" rx="38" ry="25" fill="rgb(94,94,94)" transform="rotate(15 140 1112)"/>
<ellipse cx="120" cy="1110" rx="16" ry="22" fill="rgb(84,84,84)"/>
<ellipse cx="180" cy="1125" rx="12" ry="12" fill="rgb(76,76,76)"/>
<ellipse cx="147" cy="1110" rx="16" ry="10" fill="rgb(59,59,59)" transform="rotate(15 147 1110)"/>
<ellipse cx="165" cy="1116" rx="14" ry="8" fill="rgb(74,74,74)" transform="rotate(25 165 1116)"/>
<ellipse cx="160" cy="1131" rx="8" ry="6" fill="rgb(107,107,107)"/>
</g></g>
<ellipse cx="158.4" cy="1132.0" rx="47.2" ry="46.2" fill="none" stroke="#5c5c5c" stroke-width="1.1"/>
<clipPath id="hc7"><ellipse cx="289.7" cy="1132.0" rx="47.2" ry="46.2"/></clipPath>
<path d="M285.3,1086.0 c0.6,-10.5 8.2,-10.5 8.8,0" fill="#fff" stroke="#666" stroke-width="1.1"/>
<g clip-path="url(#hc7)"><g filter="url(#jet)">
<rect x="189.7" y="1032.0" width="200" height="200" fill="rgb(125,125,125)"/>
<ellipse cx="283" cy="1156" rx="14" ry="20" fill="rgb(150,150,150)"/>
<ellipse cx="285" cy="1138" rx="12" ry="18" fill="rgb(140,140,140)"/>
<ellipse cx="300" cy="1110" rx="36" ry="15" fill="rgb(97,97,97)" transform="rotate(6 300 1110)"/>
<ellipse cx="328" cy="1135" rx="16" ry="32" fill="rgb(99,99,99)"/>
<ellipse cx="281" cy="1105" rx="10" ry="6" fill="rgb(71,71,71)"/>
<ellipse cx="315" cy="1109" rx="12" ry="8" fill="rgb(64,64,64)" transform="rotate(15 315 1109)"/>
<ellipse cx="298" cy="1104" rx="14" ry="5" fill="rgb(79,79,79)"/>
</g></g>
<ellipse cx="289.7" cy="1132.0" rx="47.2" ry="46.2" fill="none" stroke="#5c5c5c" stroke-width="1.1"/>

<rect x="356" y="670.8" width="11.4" height="90.5" fill="url(#cb)"/>
<text x="375.5" y="676.5" font-size="24.5">1 μV</text>
<text x="370" y="771.6" font-size="24.5">-1</text>
<!-- PANEL C -->
<text class="b" x="463" y="574" font-size="33">C</text>
<text class="b" x="535" y="611.5" font-size="24">2nd block - Hard</text>
<text class="b" x="789" y="611.5" font-size="23.7">Implicit - Easy</text>
<text x="560.5" y="665.3" font-size="24.5">IMP</text>
<text x="641" y="665.8" font-size="24.5">EXP</text>
<text x="811" y="665" font-size="24.5">1st</text>
<text x="886" y="665.8" font-size="24.5">2nd</text>
<text x="520.5" y="686.7" font-size="24.5">0</text>
<text x="497" y="1148.2" font-size="24.5">0.7</text>
<text transform="translate(512.6,983) rotate(-90)" font-size="23.7">Average amplitude (μV)</text>
<rect x="562.6" y="681" width="40.6" height="380.2" fill="#4472c4"/>
<rect x="644.2" y="681" width="40.9" height="72.7" fill="#8faadc"/>
<rect x="807.5" y="681" width="40.5" height="441.1" fill="#70ad47"/>
<rect x="889" y="681" width="40.7" height="206.8" fill="#a9d18e"/>
<line x1="542.4" y1="681" x2="944" y2="681" stroke="#000" stroke-width="2.2"/>
<line x1="543.4" y1="680" x2="540.7" y2="1141" stroke="#000" stroke-width="2.6"/>
</svg>
</body></html>
